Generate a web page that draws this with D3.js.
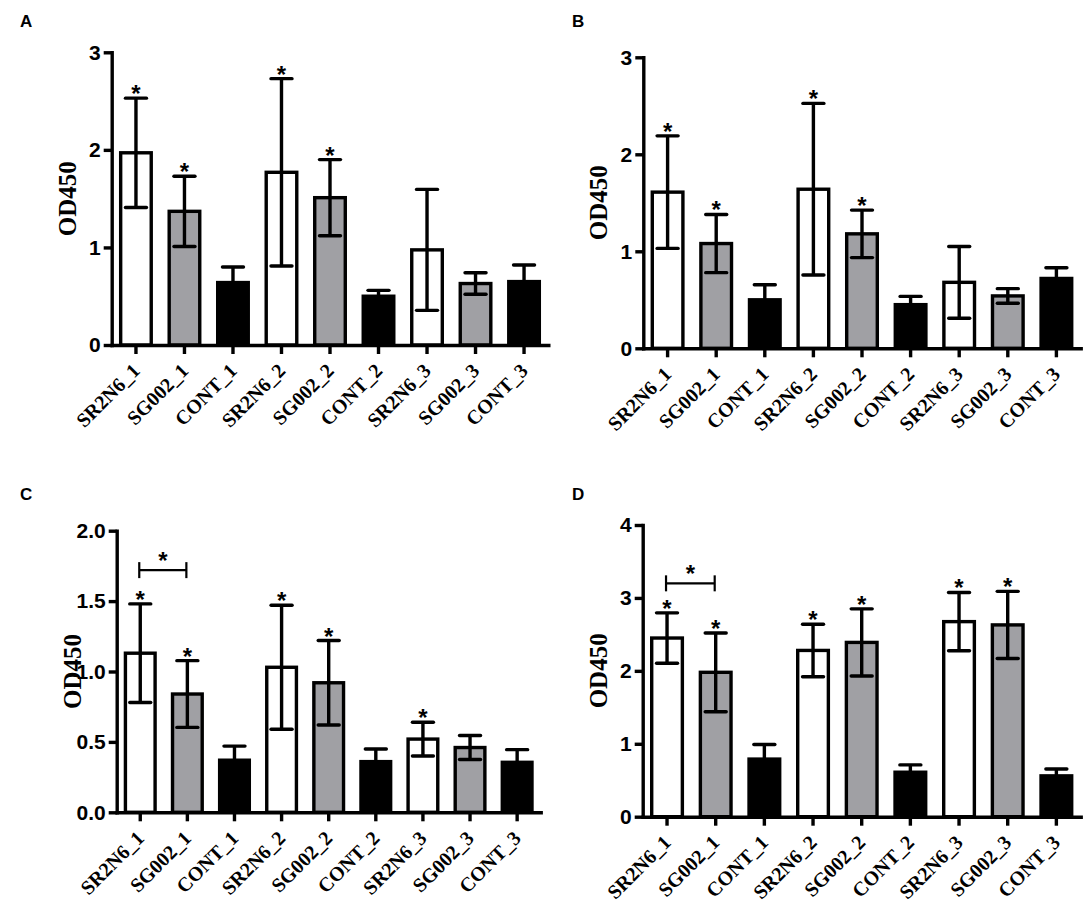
<!DOCTYPE html>
<html>
<head>
<meta charset="utf-8">
<script src="https://cdn.jsdelivr.net/npm/d3@7"></script>
<style>
  html, body { margin: 0; padding: 0; background: #fff; }
  svg { display: block; }
</style>
</head>
<body>
<svg id="chart" width="1084" height="906"></svg>
<script>
// ---------------- DATA ----------------
const categories = ["SR2N6_1", "SG002_1", "CONT_1", "SR2N6_2", "SG002_2", "CONT_2", "SR2N6_3", "SG002_3", "CONT_3"];
const groupFill = ["white", "gray", "black", "white", "gray", "black", "white", "gray", "black"];

const meansA = [1.97, 1.37, 0.64, 1.77, 1.51, 0.50, 0.975, 0.63, 0.65];
const errA   = [0.56, 0.36, 0.16, 0.96, 0.39, 0.06, 0.62, 0.11, 0.17];
const starsA = [0, 1, 3, 4];

const meansB = [1.61, 1.08, 0.50, 1.64, 1.18, 0.45, 0.68, 0.54, 0.72];
const errB   = [0.58, 0.30, 0.155, 0.885, 0.245, 0.085, 0.37, 0.075, 0.11];
const starsB = [0, 1, 3, 4];

const meansC = [1.13, 0.84, 0.37, 1.03, 0.92, 0.36, 0.52, 0.46, 0.355];
const errC   = [0.35, 0.237, 0.10, 0.44, 0.30, 0.09, 0.12, 0.085, 0.09];
const starsC = [0, 1, 3, 4, 6];
const bracketC = [0, 1, 1.72];

const meansD = [2.45, 1.98, 0.79, 2.28, 2.39, 0.61, 2.675, 2.63, 0.56];
const errD   = [0.345, 0.54, 0.20, 0.36, 0.46, 0.10, 0.40, 0.46, 0.095];
const starsD = [0, 1, 3, 4, 6, 7];
const bracketD = [0, 1, 3.2];

const ticksA = [0, 1, 2, 3];
const ticksB = [0, 1, 2, 3];
const ticksC = [0, 0.5, 1.0, 1.5, 2.0];
const ticksD = [0, 1, 2, 3, 4];

const yTitle = "OD450";

// ---------------- STYLE ----------------
const fillColor = { white: "#ffffff", gray: "#a0a0a4", black: "#000000" };
const sansBold = "'Liberation Sans', Arial, sans-serif";
const serifBold = "'Liberation Serif', 'Times New Roman', serif";
const starSize = 24;

const panels = [
  { letter: "A", lx: 20, ly: 27, x0: 111.7, x1: 548.3, y0: 345, yT: 52.3, max: 3, ticks: ticksA, fmt: d3.format("d"),
    means: meansA, err: errA, stars: starsA, bracket: null },
  { letter: "B", lx: 572, ly: 27, x0: 643.3, x1: 1080.7, y0: 348.3, yT: 57.3, max: 3, ticks: ticksB, fmt: d3.format("d"),
    means: meansB, err: errB, stars: starsB, bracket: null },
  { letter: "C", lx: 20, ly: 500, x0: 116.7, x1: 540.7, y0: 812.3, yT: 530.7, max: 2, ticks: ticksC, fmt: d3.format(".1f"),
    means: meansC, err: errC, stars: starsC, bracket: bracketC },
  { letter: "D", lx: 572, ly: 500, x0: 642.7, x1: 1080.7, y0: 816.7, yT: 525, max: 4, ticks: ticksD, fmt: d3.format("d"),
    means: meansD, err: errD, stars: starsD, bracket: bracketD }
];

const svg = d3.select("#chart");

panels.forEach(p => {
  const g = svg.append("g");

  const x = d3.scaleBand().domain(categories).range([p.x0, p.x1])
    .paddingInner(0.37).paddingOuter(0.185);
  const y = d3.scaleLinear().domain([0, p.max]).range([p.y0, p.yT]);
  const cx = d => x(d) + x.bandwidth() / 2;

  // panel letter
  g.append("text").attr("x", p.lx).attr("y", p.ly)
    .attr("font-family", sansBold).attr("font-weight", "bold").attr("font-size", 17)
    .text(p.letter);

  // bars
  g.selectAll("rect.bar").data(categories).enter().append("rect")
    .attr("class", "bar")
    .attr("x", d => x(d))
    .attr("width", x.bandwidth())
    .attr("y", (d, i) => y(p.means[i]))
    .attr("height", (d, i) => y(0) - y(p.means[i]))
    .attr("fill", (d, i) => fillColor[groupFill[i]])
    .attr("stroke", "#000").attr("stroke-width", 3.4);

  // error bars
  const capW = 21;
  const eb = g.selectAll("g.eb").data(categories).enter().append("g").attr("class", "eb")
    .attr("stroke", "#000").attr("stroke-width", 3.4);
  eb.append("line")
    .attr("x1", cx).attr("x2", cx)
    .attr("y1", (d, i) => y(p.means[i] + p.err[i])).attr("y2", (d, i) => y(p.means[i] - p.err[i]));
  eb.append("line")
    .attr("x1", d => cx(d) - capW / 2).attr("x2", d => cx(d) + capW / 2)
    .attr("y1", (d, i) => y(p.means[i] + p.err[i])).attr("y2", (d, i) => y(p.means[i] + p.err[i]))
    .attr("stroke-linecap", "round");
  eb.append("line")
    .attr("x1", d => cx(d) - capW / 2).attr("x2", d => cx(d) + capW / 2)
    .attr("y1", (d, i) => y(p.means[i] - p.err[i])).attr("y2", (d, i) => y(p.means[i] - p.err[i]))
    .attr("stroke-linecap", "round");

  // stars above error bars
  g.selectAll("text.star").data(p.stars).enter().append("text")
    .attr("class", "star")
    .attr("x", i => cx(categories[i]))
    .attr("y", i => y(p.means[i] + p.err[i]) + 4)
    .attr("text-anchor", "middle")
    .attr("font-family", sansBold).attr("font-weight", "bold").attr("font-size", starSize)
    .text("*");

  // comparison bracket
  if (p.bracket) {
    const [a, b, v] = p.bracket;
    const xa = cx(categories[a]) - 1;
    const xb = cx(categories[b]) - 1;
    const yb = y(v);
    const br = g.append("g").attr("stroke", "#000").attr("stroke-width", 2.2).attr("fill", "none");
    br.append("line").attr("x1", xa).attr("x2", xb).attr("y1", yb).attr("y2", yb);
    br.append("line").attr("x1", xa).attr("x2", xa).attr("y1", yb - 8).attr("y2", yb + 8);
    br.append("line").attr("x1", xb).attr("x2", xb).attr("y1", yb - 8).attr("y2", yb + 8);
    g.append("text").attr("x", (xa + xb) / 2).attr("y", yb - 1)
      .attr("text-anchor", "middle")
      .attr("font-family", sansBold).attr("font-weight", "bold").attr("font-size", starSize)
      .text("*");
  }

  // y axis
  const yAxis = g.append("g").attr("transform", `translate(${p.x0},0)`)
    .call(d3.axisLeft(y).tickValues(p.ticks).tickFormat(p.fmt).tickSize(8).tickSizeOuter(0).tickPadding(3));
  yAxis.select(".domain").attr("stroke-width", 3.4).attr("stroke-linecap", "square");
  yAxis.selectAll(".tick line").attr("stroke-width", 3.4);
  yAxis.selectAll(".tick text")
    .attr("font-family", sansBold).attr("font-weight", "bold").attr("font-size", 21).attr("fill", "#000");

  // x axis
  const xAxis = g.append("g").attr("transform", `translate(0,${p.y0})`)
    .call(d3.axisBottom(x).tickSize(9).tickSizeOuter(0));
  xAxis.select(".domain").attr("stroke-width", 3.4).attr("stroke-linecap", "square");
  xAxis.selectAll(".tick line").attr("stroke-width", 3.4);
  xAxis.selectAll(".tick text")
    .attr("x", 0).attr("y", 0).attr("dy", 0)
    .attr("text-anchor", "end")
    .attr("transform", "translate(5,27) rotate(-45)")
    .attr("font-family", serifBold).attr("font-weight", "bold").attr("font-size", 20).attr("fill", "#000");

  // y title
  g.append("text")
    .attr("transform", `translate(${p.x0 - 36},${(p.y0 + p.yT) / 2}) rotate(-90)`)
    .attr("text-anchor", "middle")
    .attr("font-family", serifBold).attr("font-weight", "bold").attr("font-size", 25)
    .text(yTitle);
});
</script>
</body>
</html>
